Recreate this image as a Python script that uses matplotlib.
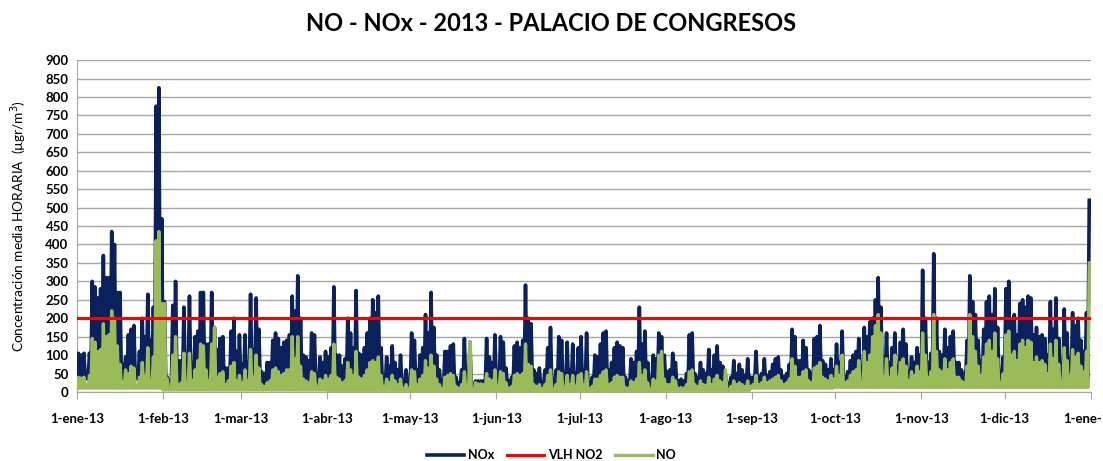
import numpy as np
import matplotlib
matplotlib.use("Agg")
import matplotlib.pyplot as plt

# daily peak values (ugr/m3), one list per month
nox_peak = [
    # ene
    105, 100, 105, 40, 105, 300, 285, 255, 280, 370, 310, 310, 435, 400, 270, 270,
    75, 95, 155, 170, 180, 60, 110, 200, 150, 265, 140, 230, 775, 825, 470,
    # feb
    245, 40, 12, 235, 300, 85, 85, 230, 75, 260, 75, 150, 165, 270, 270, 130,
    130, 270, 175, 115, 145, 150, 65, 65, 165, 200, 110, 155,
    # mar
    75, 155, 80, 265, 115, 255, 170, 55, 50, 80, 80, 140, 160, 145, 120, 135,
    140, 155, 260, 220, 315, 200, 100, 95, 85, 160, 155, 40, 95, 80, 110,
    # abr
    95, 120, 285, 100, 100, 70, 90, 200, 160, 120, 275, 105, 100, 120, 160, 200,
    250, 215, 260, 120, 40, 95, 70, 125, 80, 60, 100, 20, 60, 30,
    # may
    160, 140, 60, 100, 120, 210, 160, 270, 175, 100, 60, 20, 110, 110, 125, 130,
    40, 25, 60, 145, 25, 135, 10, 30, 30, 30, 30, 145, 95, 80, 155,
    # jun
    40, 150, 135, 65, 30, 40, 125, 135, 120, 140, 290, 200, 185, 60, 50, 65,
    25, 60, 120, 175, 20, 60, 150, 140, 40, 135, 60, 130, 50, 120,
    # jul
    150, 60, 160, 20, 40, 100, 95, 130, 160, 165, 60, 80, 120, 135, 125, 120,
    40, 30, 90, 80, 110, 230, 130, 165, 80, 10, 100, 90, 160, 150, 100,
    # ago
    55, 60, 105, 80, 30, 35, 30, 50, 155, 160, 50, 40, 80, 60, 50, 115,
    60, 100, 125, 80, 70, 45, 5, 40, 85, 50, 75, 60, 45, 90, 40,
    # sep
    40, 110, 40, 50, 90, 45, 55, 75, 90, 95, 60, 40, 50, 75, 170, 150,
    85, 85, 140, 120, 60, 50, 145, 150, 180, 85, 75, 60, 90, 60,
    # oct
    130, 80, 165, 40, 55, 85, 100, 110, 145, 40, 175, 150, 190, 200, 250, 310,
    230, 70, 160, 80, 120, 160, 70, 135, 170, 130, 50, 95, 80, 120, 100,
    # nov
    330, 200, 80, 105, 375, 200, 110, 100, 170, 120, 150, 165, 80, 80, 60, 50,
    140, 315, 245, 210, 140, 85, 170, 245, 260, 210, 280, 175, 50, 95,
    # dic
    280, 300, 190, 210, 155, 240, 250, 230, 260, 255, 155, 175, 150, 155, 145, 100,
    245, 170, 255, 145, 50, 225, 160, 90, 215, 180, 200, 140, 110, 215, 520,
]

no_peak = [
    40, 38, 40, 20, 45, 145, 135, 110, 115, 185, 150, 155, 220, 200, 125, 75,
    15, 60, 50, 70, 65, 15, 40, 80, 45, 120, 30, 95, 410, 435, 240,
    240, 35, 10, 100, 150, 20, 25, 105, 20, 105, 30, 60, 85, 130, 125, 60,
    30, 130, 175, 40, 50, 55, 20, 30, 70, 80, 30, 45,
    25, 60, 30, 115, 40, 100, 65, 20, 15, 25, 30, 60, 65, 55, 45, 50,
    60, 60, 150, 90, 150, 70, 35, 30, 25, 55, 50, 15, 35, 30, 45,
    35, 45, 130, 40, 35, 25, 30, 80, 60, 45, 110, 40, 35, 45, 60, 80,
    85, 80, 95, 45, 15, 35, 25, 45, 30, 20, 35, 8, 20, 10,
    60, 55, 20, 35, 45, 85, 65, 100, 70, 35, 20, 8, 40, 45, 50, 45,
    15, 10, 20, 55, 10, 135, 5, 25, 22, 22, 20, 50, 35, 30, 60,
    15, 55, 50, 25, 10, 15, 45, 50, 45, 50, 130, 75, 70, 20, 15, 20,
    8, 20, 45, 60, 5, 20, 55, 50, 12, 45, 20, 45, 15, 45,
    50, 20, 55, 8, 15, 35, 35, 45, 55, 60, 20, 25, 40, 45, 40, 40,
    12, 10, 30, 25, 35, 80, 45, 60, 25, 5, 35, 30, 100, 110, 35,
    20, 20, 40, 30, 10, 12, 10, 20, 55, 60, 20, 15, 30, 20, 18, 40,
    20, 35, 45, 30, 25, 60, 5, 15, 30, 20, 25, 20, 15, 30, 15,
    20, 45, 20, 25, 40, 25, 30, 35, 40, 45, 30, 20, 25, 35, 90, 70,
    40, 40, 55, 60, 30, 25, 65, 70, 80, 40, 35, 30, 45, 35,
    70, 45, 100, 25, 30, 45, 55, 60, 85, 20, 110, 80, 100, 150, 180, 210,
    160, 40, 90, 40, 65, 100, 40, 80, 90, 70, 30, 55, 45, 70, 55,
    160, 100, 40, 55, 210, 110, 60, 55, 90, 60, 80, 90, 40, 40, 30, 25,
    70, 210, 150, 110, 70, 45, 95, 130, 140, 110, 160, 90, 25, 50,
    155, 165, 100, 110, 85, 130, 140, 120, 140, 135, 80, 95, 80, 85, 75, 50,
    130, 90, 140, 75, 25, 120, 85, 45, 115, 95, 105, 70, 55, 110, 350,
]

# typical night minimum per month
nox_low_month = [35, 25, 22, 18, 15, 15, 15, 18, 25, 30, 30, 35]
no_low_month = [10, 5, 5, 4, 3, 3, 3, 4, 10, 12, 12, 12]

month_days = [31, 28, 31, 30, 31, 30, 31, 31, 30, 31, 30, 31]
month_labels = ["1-ene-13", "1-feb-13", "1-mar-13", "1-abr-13", "1-may-13", "1-jun-13",
                "1-jul-13", "1-ago-13", "1-sep-13", "1-oct-13", "1-nov-13", "1-dic-13", "1-ene-14"]
vlh_no2 = 200

plt.rcParams["font.family"] = ["Lato", "DejaVu Sans"]

nox_low = np.repeat(nox_low_month, month_days)
no_low = np.repeat(no_low_month, month_days)
ndays = len(nox_peak)
days = np.arange(ndays)

# two points per day: night low and daily peak
x = np.column_stack([days, days + 0.5]).ravel()
y_nox = np.column_stack([nox_low, nox_peak]).ravel()
y_no = np.column_stack([no_low, no_peak]).ravel()

fig = plt.figure(figsize=(11.03, 4.61), dpi=100)
ax = fig.add_axes([0.0698, 0.1497, 0.919, 0.72])

navy = "#0a215e"
green = "#9bbb59"
ax.plot(x, y_nox, color=navy, lw=2.6, label="NOx", zorder=3)
ax.plot([0, ndays], [vlh_no2, vlh_no2], color="#ff0000", lw=2.2, label="VLH NO2", zorder=5)
ax.plot(x, y_no, color=green, lw=2.4, label="NO", zorder=4)

ax.set_xlim(0, ndays)
ax.set_ylim(0, 900)
ax.set_yticks(np.arange(0, 901, 50))
ticks = np.concatenate([[0], np.cumsum(month_days)])
ax.set_xticks(ticks)
ax.set_xticklabels(month_labels)

ax.yaxis.grid(True, color="#a6a6a6", lw=1)
ax.set_axisbelow(True)
for s in ["top", "right"]:
    ax.spines[s].set_visible(False)
ax.spines["left"].set_color("#a6a6a6")
ax.spines["bottom"].set_color("#a6a6a6")
ax.tick_params(axis="x", length=5, color="#a6a6a6", pad=10)
ax.tick_params(axis="y", length=0, pad=6)
for lab in ax.get_xticklabels() + ax.get_yticklabels():
    lab.set_fontweight("bold")
    lab.set_fontsize(9.5)

ax.set_ylabel("Concentración media HORARIA  (µgr/m$^3$)", fontsize=9.8, labelpad=12)
fig.suptitle("NO - NOx - 2013 - PALACIO DE CONGRESOS", fontsize=17, fontweight="bold", x=0.5, y=0.975)

leg = fig.legend(loc="lower center", ncol=3, bbox_to_anchor=(0.5, -0.025), frameon=False,
                 prop={"weight": "bold", "size": 9}, handlelength=3.0, handletextpad=0.3,
                 columnspacing=1.0)

fig.savefig("out.png", dpi=100)
